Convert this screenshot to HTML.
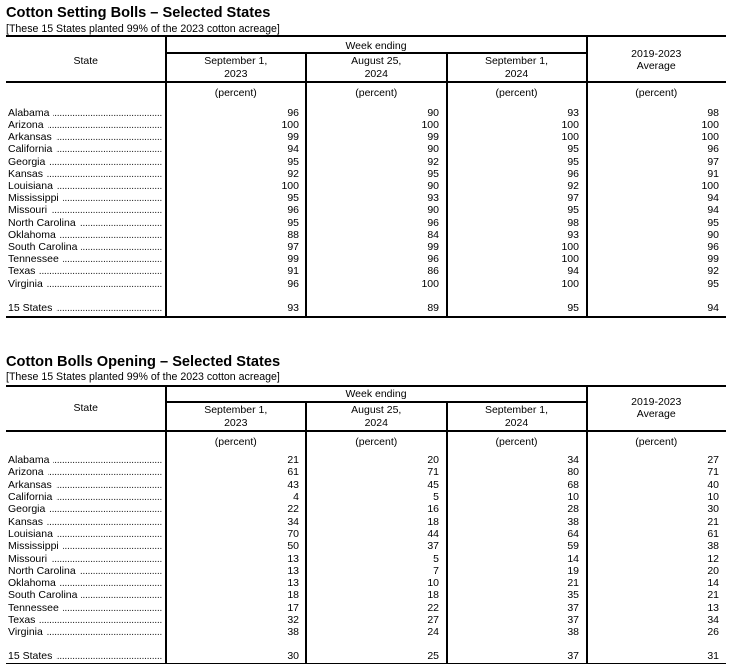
<!DOCTYPE html>
<html><head><meta charset="utf-8">
<style>
*{margin:0;padding:0;box-sizing:border-box}
html,body{width:733px;height:670px;background:#fff;overflow:hidden}
body{position:relative;font-family:"Liberation Sans",Arial,sans-serif;color:#000;font-size:10.5px}
.t{position:absolute;left:6px;font-weight:bold;font-size:14.6px;line-height:17px;white-space:nowrap}
.s{position:absolute;left:6px;font-size:10.6px;line-height:12px;white-space:nowrap}
.h{position:absolute;height:12px;line-height:12px;text-align:center;white-space:nowrap}
.l{position:absolute;background:#000}
.r{position:absolute;left:0;width:733px;height:12px;line-height:12px;white-space:nowrap}
.n{position:absolute;left:8px;width:154px;display:flex}
.n i{flex:1;overflow:hidden;direction:rtl;font-style:normal;margin-left:4px;letter-spacing:-0.35px;color:#222}
.r b{position:absolute;font-weight:normal;text-align:right}
.r b:nth-of-type(1){right:434px}
.r b:nth-of-type(2){right:294px}
.r b:nth-of-type(3){right:154px}
.r b:nth-of-type(4){right:14px}
</style></head><body>

<!-- TABLE 1 -->
<div class="t" style="top:5px">Cotton Setting Bolls – Selected States</div>
<div class="s" style="top:23.3px">[These 15 States planted 99% of the 2023 cotton acreage]</div>

<div class="l" style="left:6px;top:35px;width:720px;height:2px"></div>
<div class="l" style="left:165px;top:52px;width:421px;height:1.5px"></div>
<div class="l" style="left:6px;top:81px;width:720px;height:1.5px"></div>
<div class="l" style="left:6px;top:316px;width:720px;height:1.5px"></div>
<div class="l" style="left:165px;top:35px;width:1.5px;height:282px"></div>
<div class="l" style="left:305px;top:52px;width:1.5px;height:265px"></div>
<div class="l" style="left:446px;top:52px;width:1.5px;height:265px"></div>
<div class="l" style="left:586px;top:35px;width:1.5px;height:282px"></div>

<div class="h" style="left:6px;width:159.5px;top:54.7px">State</div>
<div class="h" style="left:165.5px;width:421px;top:39.7px">Week ending</div>
<div class="h" style="left:165.5px;width:140.5px;top:55px">September 1,</div>
<div class="h" style="left:165.5px;width:140.5px;top:68px">2023</div>
<div class="h" style="left:306px;width:140.5px;top:55px">August 25,</div>
<div class="h" style="left:306px;width:140.5px;top:68px">2024</div>
<div class="h" style="left:446.5px;width:140px;top:55px">September 1,</div>
<div class="h" style="left:446.5px;width:140px;top:68px">2024</div>
<div class="h" style="left:586.5px;width:139.5px;top:48px">2019-2023</div>
<div class="h" style="left:586.5px;width:139.5px;top:60px">Average</div>
<div class="h" style="left:165.5px;width:140.5px;top:87px">(percent)</div>
<div class="h" style="left:306px;width:140.5px;top:87px">(percent)</div>
<div class="h" style="left:446.5px;width:140px;top:87px">(percent)</div>
<div class="h" style="left:586.5px;width:139.5px;top:87px">(percent)</div>

<div class="r" style="top:106.7px"><span class="n">Alabama<i>......................................................</i></span><b>96</b><b>90</b><b>93</b><b>98</b></div>
<div class="r" style="top:118.9px"><span class="n">Arizona<i>......................................................</i></span><b>100</b><b>100</b><b>100</b><b>100</b></div>
<div class="r" style="top:131.1px"><span class="n">Arkansas<i>......................................................</i></span><b>99</b><b>99</b><b>100</b><b>100</b></div>
<div class="r" style="top:143.3px"><span class="n">California<i>......................................................</i></span><b>94</b><b>90</b><b>95</b><b>96</b></div>
<div class="r" style="top:155.5px"><span class="n">Georgia<i>......................................................</i></span><b>95</b><b>92</b><b>95</b><b>97</b></div>
<div class="r" style="top:167.8px"><span class="n">Kansas<i>......................................................</i></span><b>92</b><b>95</b><b>96</b><b>91</b></div>
<div class="r" style="top:180.0px"><span class="n">Louisiana<i>......................................................</i></span><b>100</b><b>90</b><b>92</b><b>100</b></div>
<div class="r" style="top:192.2px"><span class="n">Mississippi<i>......................................................</i></span><b>95</b><b>93</b><b>97</b><b>94</b></div>
<div class="r" style="top:204.4px"><span class="n">Missouri<i>......................................................</i></span><b>96</b><b>90</b><b>95</b><b>94</b></div>
<div class="r" style="top:216.6px"><span class="n">North Carolina<i>......................................................</i></span><b>95</b><b>96</b><b>98</b><b>95</b></div>
<div class="r" style="top:228.8px"><span class="n">Oklahoma<i>......................................................</i></span><b>88</b><b>84</b><b>93</b><b>90</b></div>
<div class="r" style="top:241.0px"><span class="n">South Carolina<i>......................................................</i></span><b>97</b><b>99</b><b>100</b><b>96</b></div>
<div class="r" style="top:253.2px"><span class="n">Tennessee<i>......................................................</i></span><b>99</b><b>96</b><b>100</b><b>99</b></div>
<div class="r" style="top:265.4px"><span class="n">Texas<i>......................................................</i></span><b>91</b><b>86</b><b>94</b><b>92</b></div>
<div class="r" style="top:277.6px"><span class="n">Virginia<i>......................................................</i></span><b>96</b><b>100</b><b>100</b><b>95</b></div>
<div class="r" style="top:302.3px"><span class="n">15 States<i>......................................................</i></span><b>93</b><b>89</b><b>95</b><b>94</b></div>

<!-- TABLE 2 -->
<div class="t" style="top:353.5px">Cotton Bolls Opening – Selected States</div>
<div class="s" style="top:371.3px">[These 15 States planted 99% of the 2023 cotton acreage]</div>

<div class="l" style="left:6px;top:385px;width:720px;height:2px"></div>
<div class="l" style="left:165px;top:401px;width:421px;height:1.5px"></div>
<div class="l" style="left:6px;top:430px;width:720px;height:1.5px"></div>
<div class="l" style="left:6px;top:662.5px;width:720px;height:1.5px"></div>
<div class="l" style="left:165px;top:385px;width:1.5px;height:278px"></div>
<div class="l" style="left:305px;top:401px;width:1.5px;height:262px"></div>
<div class="l" style="left:446px;top:401px;width:1.5px;height:262px"></div>
<div class="l" style="left:586px;top:385px;width:1.5px;height:278px"></div>

<div class="h" style="left:6px;width:159.5px;top:402.3px">State</div>
<div class="h" style="left:165.5px;width:421px;top:388.3px">Week ending</div>
<div class="h" style="left:165.5px;width:140.5px;top:404px">September 1,</div>
<div class="h" style="left:165.5px;width:140.5px;top:417.3px">2023</div>
<div class="h" style="left:306px;width:140.5px;top:404px">August 25,</div>
<div class="h" style="left:306px;width:140.5px;top:417.3px">2024</div>
<div class="h" style="left:446.5px;width:140px;top:404px">September 1,</div>
<div class="h" style="left:446.5px;width:140px;top:417.3px">2024</div>
<div class="h" style="left:586.5px;width:139.5px;top:396.3px">2019-2023</div>
<div class="h" style="left:586.5px;width:139.5px;top:408.3px">Average</div>
<div class="h" style="left:165.5px;width:140.5px;top:436.3px">(percent)</div>
<div class="h" style="left:306px;width:140.5px;top:436.3px">(percent)</div>
<div class="h" style="left:446.5px;width:140px;top:436.3px">(percent)</div>
<div class="h" style="left:586.5px;width:139.5px;top:436.3px">(percent)</div>

<div class="r" style="top:454.0px"><span class="n">Alabama<i>......................................................</i></span><b>21</b><b>20</b><b>34</b><b>27</b></div>
<div class="r" style="top:466.3px"><span class="n">Arizona<i>......................................................</i></span><b>61</b><b>71</b><b>80</b><b>71</b></div>
<div class="r" style="top:478.6px"><span class="n">Arkansas<i>......................................................</i></span><b>43</b><b>45</b><b>68</b><b>40</b></div>
<div class="r" style="top:490.9px"><span class="n">California<i>......................................................</i></span><b>4</b><b>5</b><b>10</b><b>10</b></div>
<div class="r" style="top:503.2px"><span class="n">Georgia<i>......................................................</i></span><b>22</b><b>16</b><b>28</b><b>30</b></div>
<div class="r" style="top:515.6px"><span class="n">Kansas<i>......................................................</i></span><b>34</b><b>18</b><b>38</b><b>21</b></div>
<div class="r" style="top:527.9px"><span class="n">Louisiana<i>......................................................</i></span><b>70</b><b>44</b><b>64</b><b>61</b></div>
<div class="r" style="top:540.2px"><span class="n">Mississippi<i>......................................................</i></span><b>50</b><b>37</b><b>59</b><b>38</b></div>
<div class="r" style="top:552.5px"><span class="n">Missouri<i>......................................................</i></span><b>13</b><b>5</b><b>14</b><b>12</b></div>
<div class="r" style="top:564.8px"><span class="n">North Carolina<i>......................................................</i></span><b>13</b><b>7</b><b>19</b><b>20</b></div>
<div class="r" style="top:577.1px"><span class="n">Oklahoma<i>......................................................</i></span><b>13</b><b>10</b><b>21</b><b>14</b></div>
<div class="r" style="top:589.4px"><span class="n">South Carolina<i>......................................................</i></span><b>18</b><b>18</b><b>35</b><b>21</b></div>
<div class="r" style="top:601.7px"><span class="n">Tennessee<i>......................................................</i></span><b>17</b><b>22</b><b>37</b><b>13</b></div>
<div class="r" style="top:614.0px"><span class="n">Texas<i>......................................................</i></span><b>32</b><b>27</b><b>37</b><b>34</b></div>
<div class="r" style="top:626.3px"><span class="n">Virginia<i>......................................................</i></span><b>38</b><b>24</b><b>38</b><b>26</b></div>
<div class="r" style="top:650.0px"><span class="n">15 States<i>......................................................</i></span><b>30</b><b>25</b><b>37</b><b>31</b></div>

</body></html>
